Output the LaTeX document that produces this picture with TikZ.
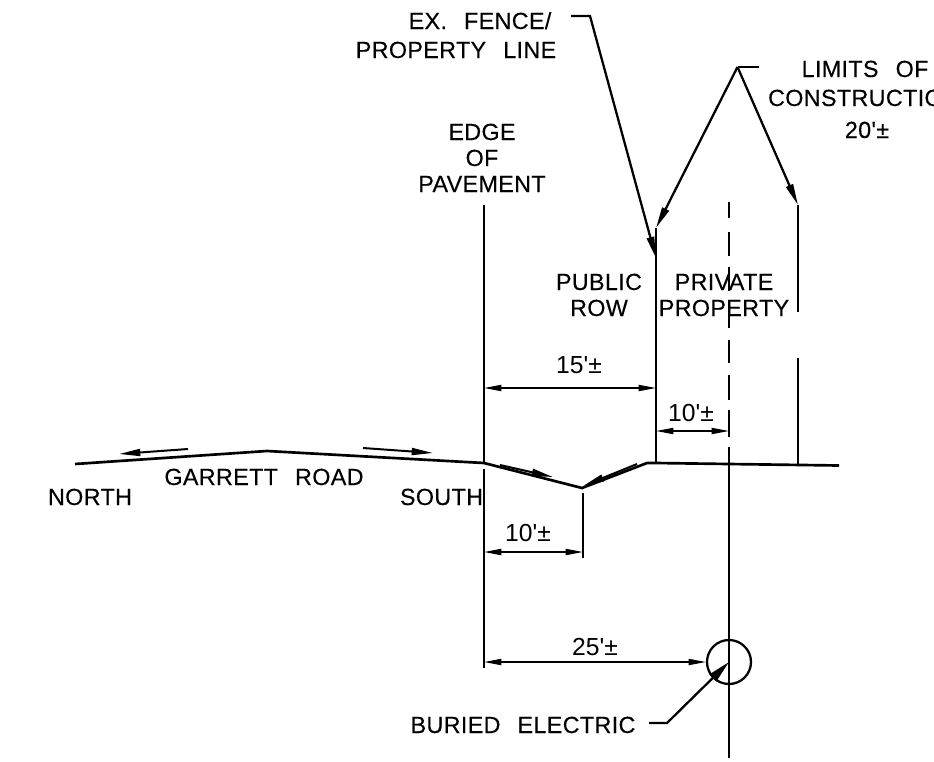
\documentclass[tikz,border=0pt]{standalone}
\usepackage{fontspec}
\usetikzlibrary{arrows.meta}
\setmainfont{Liberation Sans}
\newfontfamily\cadfont[LetterSpace=1.5,WordSpace=2.5,FakeBold=0.25]{Liberation Sans}
\newfontfamily\dimfont{Liberation Sans}
\tikzset{
  every picture/.append style={x=0.75pt,y=-0.75pt},
  heavy/.style={line width=2pt,line cap=butt},
  thin line/.style={line width=1.1pt},
  dim/.style={line width=1.1pt,{Triangle[length=13pt,width=4.6pt]}-{Triangle[length=13pt,width=4.6pt]}},
  leader/.style={line width=1.7pt,-{Triangle[length=16pt,width=5.5pt]},line join=miter},
  flow/.style={line width=1.5pt,-{Triangle[length=16pt,width=5.2pt]}},
  lab/.style={inner sep=0pt,anchor=base,font=\cadfont\fontsize{17.5}{20}\selectfont},
  dimlab/.style={inner sep=0pt,anchor=base,font=\dimfont\fontsize{18.5}{20}\selectfont},
  dash seg/.style={line width=1.1pt}
}
\begin{document}
\begin{tikzpicture}
\useasboundingbox (0,0) rectangle (934,761);
\clip (0,0) rectangle (934,761);
% ground profile
\coordinate (rw) at (75,464);
\coordinate (rc) at (267,451);
\coordinate (ep) at (484,463);
\coordinate (dt) at (582,488);
\coordinate (fb) at (647,463);
\coordinate (fl) at (656,463);
\coordinate (dg) at (729,464);
\coordinate (lg) at (798,465);
\coordinate (re) at (839,465.5);
\draw[heavy,line join=round] (rw)--(rc)--(ep)--(dt)--(fb)--(fl)--(re);
% verticals
\coordinate (eptop) at (484,205);
\coordinate (ftop) at (656,228);
\coordinate (ltop) at (798,205);
\coordinate (lbrk) at (798,312);
\coordinate (lres) at (798,358);
\draw[heavy] (eptop)--(ep);
\draw[heavy] (ftop)--(fl);
\draw[heavy] (ltop)--(lbrk);
\draw[heavy] (lres)--(lg);
% centre line
\foreach \a/\b in {202/218,232/256,267/291,304/328,340/363,375/400,410/437,447/463}
  \draw[dash seg] (729,\a)--(729,\b);
\coordinate (cbot) at (729,758);
\draw[heavy] (dg)--(cbot);
% extension lines
\coordinate (e1) at (484,469);
\coordinate (e2) at (484,668);
\coordinate (e3) at (583,493);
\coordinate (e4) at (583,558);
\draw[thin line] (e1)--(e2);
\draw[thin line] (e3)--(e4);
% electric circle
\node[circle,draw,line width=1.7pt,minimum size=44*0.75pt,inner sep=0pt] (el) at (729,662) {};
% dimensions
\coordinate (d1a) at (484,388); \coordinate (d1b) at (656,388);
\draw[dim] (d1a)--(d1b);
\coordinate (d2a) at (656,431); \coordinate (d2b) at (729,431);
\draw[dim] (d2a)--(d2b);
\coordinate (d3a) at (484,552); \coordinate (d3b) at (583,552);
\draw[dim] (d3a)--(d3b);
\coordinate (d4a) at (484,662);
\draw[dim] (d4a)--(el.west);
% flow arrows
\coordinate (fa1) at (188,449); \coordinate (fa2) at (119,454);
\coordinate (fb1) at (363,448); \coordinate (fb2) at (433,453);
\coordinate (fc1) at (500,465); \coordinate (fc2) at (553,477);
\coordinate (fd1) at (637,464); \coordinate (fd2) at (583,486);
\draw[flow] (fa1)--(fa2);
\draw[flow] (fb1)--(fb2);
\draw[flow] (fc1)--(fc2);
\draw[flow] (fd1)--(fd2);
% leaders
\coordinate (l1a) at (571,16); \coordinate (l1b) at (590,16); \coordinate (l1c) at (656,258);
\draw[leader] (l1a)--(l1b)--(l1c);
\coordinate (l2a) at (759,67); \coordinate (l2b) at (737.5,67);
\draw[line width=1.7pt] (l2a)--(l2b);
\draw[leader] (l2b)--(ftop);
\draw[leader] (l2b)--(ltop);
\coordinate (l3a) at (649,723); \coordinate (l3b) at (667,723);
\draw[line width=1.7pt,-{Triangle[length=17pt,width=7pt]}] (l3a)--(l3b)--(el.center);
% labels
\node[lab] (t1) at (480,29) {EX. FENCE/};
\node[lab] (t2) at (456,58) {PROPERTY LINE};
\node[lab] (t3) at (865,77) {LIMITS OF};
\node[lab] (t4) at (864,106) {CONSTRUCTION};
\node[lab] (t5) at (867,138) {20'±};
\node[lab] (t6) at (482,140) {EDGE};
\node[lab] (t7) at (482,166) {OF};
\node[lab] (t8) at (482,192) {PAVEMENT};
\node[lab] (t9) at (599,290) {PUBLIC};
\node[lab] (t10) at (599,316) {ROW};
\node[lab] (t11) at (724,290) {PRIVATE};
\node[lab] (t12) at (724,316) {PROPERTY};
\node[dimlab] (t13) at (579,373) {15'±};
\node[dimlab] (t14) at (691,421) {10'±};
\node[dimlab] (t15) at (528,541) {10'±};
\node[dimlab] (t16) at (595,655) {25'±};
\node[lab] (t17) at (523,733) {BURIED ELECTRIC};
\node[lab] (t18) at (264,485) {GARRETT ROAD};
\node[lab] (t19) at (90,505) {NORTH};
\node[lab] (t20) at (441.5,505) {SOUTH};
\end{tikzpicture}
\end{document}
